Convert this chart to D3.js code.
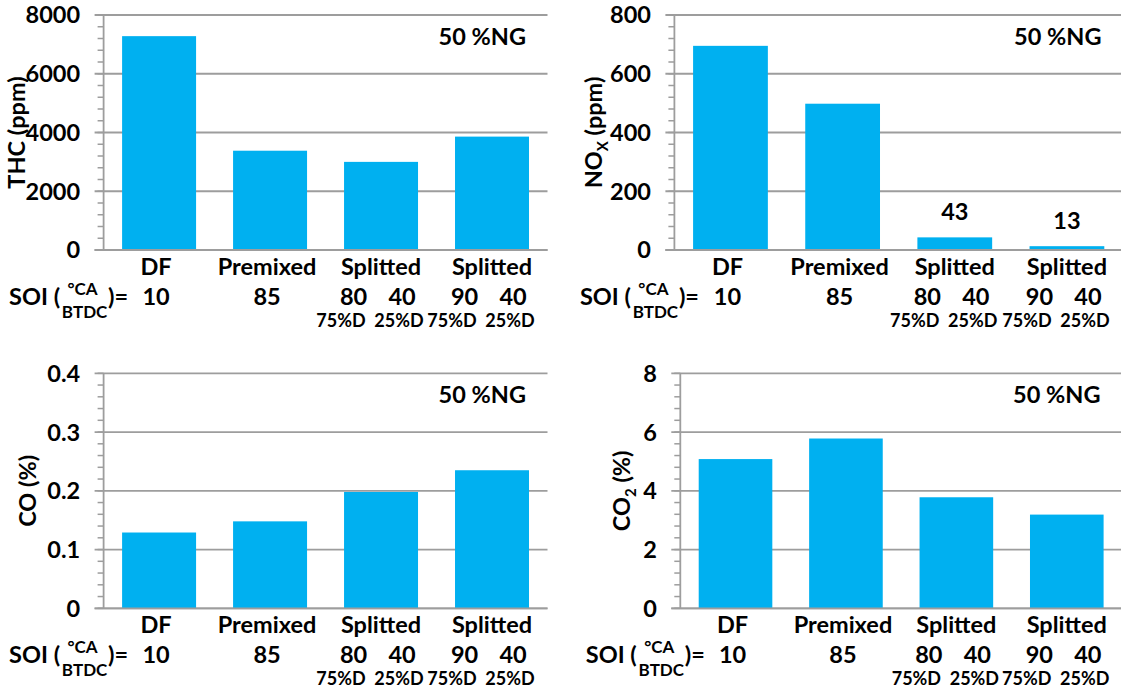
<!DOCTYPE html>
<html><head><meta charset="utf-8">
<script src="https://cdn.jsdelivr.net/npm/d3@7"></script>
<style>
body{margin:0;background:#fff}
svg{display:block}
text{font-family:Lato,"Open Sans",sans-serif;font-weight:700;fill:#000}
</style>
</head><body>
<svg id="c" width="1121" height="689"></svg>
<script>
// ---------- data ----------
const categories = ["DF", "Premixed", "Splitted", "Splitted"];
const soiMain = ["10", "85", "80", "90"];
const soiSecond = ["", "", "40", "40"];
const dieselFirst = ["", "", "75%D", "75%D"];
const dieselSecond = ["", "", "25%D", "25%D"];
const ngLabel = "50 %NG";

const thcValues = [7280, 3380, 3000, 3860];
const noxValues = [695, 498, 43, 13];
const noxDataLabels = ["", "", "43", "13"];
const coValues = [0.129, 0.148, 0.198, 0.235];
const co2Values = [5.08, 5.78, 3.78, 3.19];

const thcTicks = [0, 2000, 4000, 6000, 8000];
const noxTicks = [0, 200, 400, 600, 800];
const coTicks = [0, 0.1, 0.2, 0.3, 0.4];
const co2Ticks = [0, 2, 4, 6, 8];
const thcTickLabels = ["0", "2000", "4000", "6000", "8000"];
const noxTickLabels = ["0", "200", "400", "600", "800"];
const coTickLabels = ["0", "0.1", "0.2", "0.3", "0.4"];
const co2TickLabels = ["0", "2", "4", "6", "8"];

// ---------- layout ----------
const panels = [
  {values: thcValues, ticks: thcTicks, tickLabels: thcTickLabels, dataLabels: null,
   title: [["THC (ppm)", false]], left: 103.6, right: 547.5, top: 15, bottom: 250, titleX: 17},
  {values: noxValues, ticks: noxTicks, tickLabels: noxTickLabels, dataLabels: noxDataLabels,
   title: [["NO", false], ["X", true], [" (ppm)", false]], left: 674.4, right: 1123, top: 15, bottom: 250, titleX: 594},
  {values: coValues, ticks: coTicks, tickLabels: coTickLabels, dataLabels: null,
   title: [["CO (%)", false]], left: 103.6, right: 547.5, top: 373.3, bottom: 608.3, titleX: 27.7},
  {values: co2Values, ticks: co2Ticks, tickLabels: co2TickLabels, dataLabels: null,
   title: [["CO", false], ["2", true], [" (%)", false]], left: 680.3, right: 1122, top: 373.3, bottom: 608.3, titleX: 622}
];

const BAR = "#00B0F0", GRID = "#9d9d9d";
const BIG = 23.5, SMALL = 18, SUP = 17;
const svg = d3.select("#c");

panels.forEach(p => {
  const g = svg.append("g");
  const maxV = p.ticks[p.ticks.length - 1];
  const y = d3.scaleLinear().domain([0, maxV]).range([p.bottom, p.top]);
  const x = d3.scaleBand().domain(d3.range(categories.length))
    .range([p.left, p.right]).paddingInner(1 / 3).paddingOuter(1 / 6);

  g.append("g").selectAll("line").data(p.ticks).join("line")
    .attr("x1", p.left - 9).attr("x2", p.right)
    .attr("y1", d => y(d)).attr("y2", d => y(d))
    .attr("stroke", GRID).attr("stroke-width", 1.8);

  const step = (p.ticks[1] - p.ticks[0]) / 5;
  const minors = d3.range(0, maxV + step / 2, step);
  g.append("g").selectAll("line").data(minors).join("line")
    .attr("x1", p.left - 6).attr("x2", p.left)
    .attr("y1", d => y(d)).attr("y2", d => y(d))
    .attr("stroke", GRID).attr("stroke-width", 1.5);

  g.append("line").attr("x1", p.left).attr("x2", p.left)
    .attr("y1", p.top).attr("y2", p.bottom)
    .attr("stroke", GRID).attr("stroke-width", 1.8);

  g.append("g").selectAll("rect").data(p.values).join("rect")
    .attr("x", (d, i) => x(i)).attr("width", x.bandwidth())
    .attr("y", d => y(d)).attr("height", d => p.bottom - y(d))
    .attr("fill", BAR);

  g.append("line").attr("x1", p.left - 9).attr("x2", p.right)
    .attr("y1", p.bottom).attr("y2", p.bottom)
    .attr("stroke", GRID).attr("stroke-width", 1.8);

  if (p.dataLabels) {
    g.append("g").selectAll("text").data(p.values).join("text")
      .attr("x", (d, i) => x(i) + x.bandwidth() / 2)
      .attr("y", d => y(d) - 17)
      .attr("text-anchor", "middle").attr("font-size", BIG)
      .text((d, i) => p.dataLabels[i]);
  }

  g.append("g").selectAll("text").data(p.ticks).join("text")
    .attr("x", p.left - 23.5).attr("y", d => y(d)).attr("dy", "0.36em")
    .attr("text-anchor", "end").attr("font-size", BIG)
    .text((d, i) => p.tickLabels[i]);

  const cy = (p.top + p.bottom) / 2;
  const t = g.append("text")
    .attr("transform", `translate(${p.titleX},${cy}) rotate(-90)`)
    .attr("text-anchor", "middle").attr("dy", "0.36em").attr("font-size", BIG);
  p.title.forEach(([s, sub], k) => {
    const ts = t.append("tspan").text(s);
    if (sub) ts.attr("font-size", 15).attr("dy", 6);
    else if (k > 0 && p.title[k - 1][1]) ts.attr("dy", -6);
  });

  g.append("text").attr("x", p.right - 21.5).attr("y", p.top + 30)
    .attr("text-anchor", "end").attr("font-size", BIG).text(ngLabel);

  const cx = i => x(i) + x.bandwidth() / 2;
  const b = p.bottom;
  g.append("g").selectAll("text").data(categories).join("text")
    .attr("x", (d, i) => cx(i) - (i < 2 ? 3 : 0)).attr("y", b + 25)
    .attr("text-anchor", "middle").attr("font-size", BIG).text(d => d);

  g.append("g").selectAll("text").data(soiMain).join("text")
    .attr("x", (d, i) => cx(i) + (soiSecond[i] ? -27.5 : -3)).attr("y", b + 55)
    .attr("text-anchor", "middle").attr("font-size", BIG).text(d => d);
  g.append("g").selectAll("text").data(soiSecond).join("text")
    .attr("x", (d, i) => cx(i) + 21).attr("y", b + 55)
    .attr("text-anchor", "middle").attr("font-size", BIG).text(d => d);
  g.append("g").selectAll("text").data(dieselFirst).join("text")
    .attr("x", (d, i) => cx(i) - 40).attr("y", b + 77)
    .attr("text-anchor", "middle").attr("font-size", SMALL).text(d => d);
  g.append("g").selectAll("text").data(dieselSecond).join("text")
    .attr("x", (d, i) => cx(i) + 18).attr("y", b + 77)
    .attr("text-anchor", "middle").attr("font-size", SMALL).text(d => d);

  g.append("text").attr("x", p.left - 43.5).attr("y", b + 55)
    .attr("text-anchor", "end").attr("font-size", BIG).text("SOI (");
  g.append("text").attr("x", p.left - 21).attr("y", b + 45)
    .attr("text-anchor", "middle").attr("font-size", SUP).text("°CA");
  g.append("text").attr("x", p.left - 19).attr("y", b + 68)
    .attr("text-anchor", "middle").attr("font-size", SUP).text("BTDC");
  g.append("text").attr("x", p.left + 4.5).attr("y", b + 55)
    .attr("font-size", BIG).text(")=");
});
</script>
</body></html>
